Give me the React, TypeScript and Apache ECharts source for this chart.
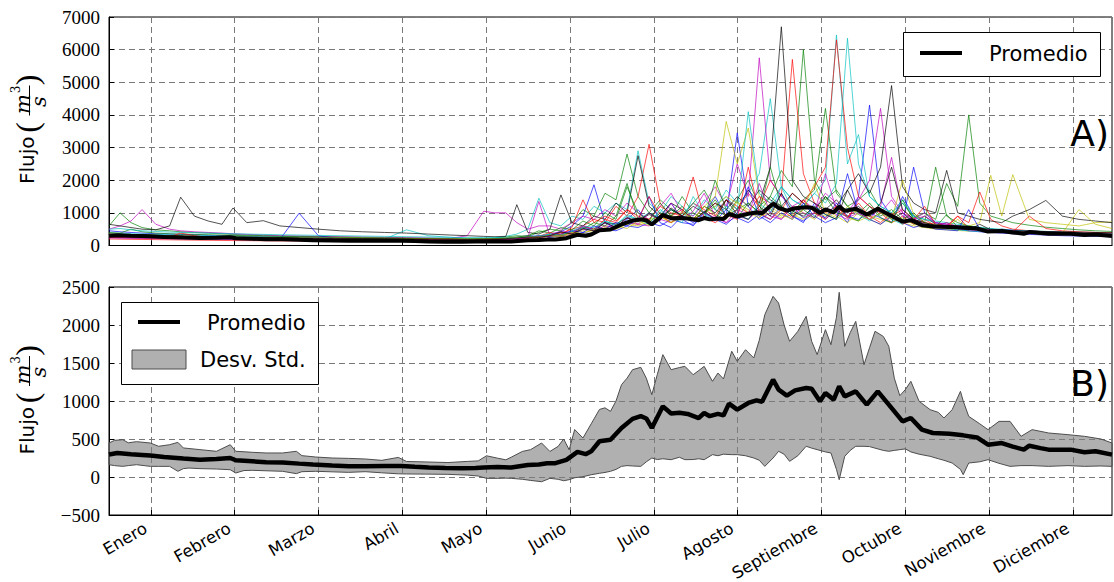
import React, { useEffect, useRef } from 'react';
import * as echarts from 'echarts';

// ---------- tick data ----------
const MONTHS = ['Enero', 'Febrero', 'Marzo', 'Abril', 'Mayo', 'Junio', 'Julio', 'Agosto', 'Septiembre', 'Octubre', 'Noviembre', 'Diciembre'];
const MONTH_TICKS = [15.2, 45.6, 76.0, 106.5, 136.9, 167.3, 197.7, 228.1, 258.5, 289.0, 319.4, 349.8];

// ---------- panel A: individual years (day of year) ----------
const DAYS = [
  0, 4, 8, 12, 17, 22, 26, 31, 36, 41, 45, 50, 56, 62, 69, 76, 84, 92, 100, 108, 116, 124, 130, 136, 140,
  144, 148, 152, 156, 160, 164, 168, 172, 176, 180, 184, 188, 192, 196, 200, 204, 208, 212, 216, 220, 224, 228, 232, 236, 240,
  244, 248, 252, 256, 260, 264, 268, 272, 276, 280, 284, 288, 292, 296, 300, 304, 308, 312, 316, 320,
  324, 328, 334, 340, 346, 352, 358, 364,
];

const YEAR_01 = [
  450, 420, 400, 380, 360, 350, 340, 330, 310, 300, 290, 280, 270, 255, 245, 235, 220, 210, 200, 190, 180, 175, 170, 180, 200,
  220, 250, 300, 280, 350, 420, 600, 900, 1860, 700, 500, 800, 1100, 650, 900, 1300, 800, 600, 1000, 1500, 900, 3450, 1200, 800, 1000,
  1600, 900, 700, 1300, 800, 1100, 700, 1500, 4300, 1400, 900, 700, 2400, 1000, 700, 600, 550, 500, 480, 450,
  500, 470, 440, 420, 400, 380, 360, 350,
];
const YEAR_02 = [
  600, 1000, 700, 550, 480, 450, 420, 400, 380, 360, 340, 320, 300, 290, 280, 270, 260, 250, 240, 230, 220, 210, 200, 210, 230,
  260, 300, 280, 400, 500, 450, 700, 1100, 900, 1600, 1400, 2800, 1500, 1000, 1400, 1100, 900, 1300, 1700, 1100, 900, 1400, 2000, 1200, 1500,
  2300, 1800, 6000, 2000, 1400, 1700, 1200, 1400, 1700, 1100, 900, 1300, 850, 1000, 800, 1900, 1200, 4000, 1300, 900,
  800, 700, 620, 560, 520, 480, 450, 430,
];
const YEAR_03 = [
  350, 340, 330, 320, 310, 300, 290, 280, 270, 260, 250, 245, 240, 230, 220, 210, 200, 190, 180, 170, 160, 150, 150, 160, 170,
  180, 200, 250, 230, 300, 350, 500, 600, 800, 700, 1200, 900, 1500, 3100, 1300, 900, 1100, 800, 1000, 1300, 900, 1100, 1600, 1200, 2000,
  1500, 5700, 2200, 1300, 1000, 1200, 900, 1100, 800, 1000, 700, 900, 650, 800, 600, 700, 550, 500, 480, 450,
  420, 400, 380, 360, 340, 320, 310, 300,
];
const YEAR_04 = [
  300, 290, 280, 270, 260, 250, 240, 235, 230, 225, 220, 215, 210, 205, 200, 195, 190, 185, 200, 480, 300, 250, 220, 210, 230,
  280, 350, 500, 1450, 700, 600, 900, 800, 1200, 1000, 1300, 1100, 2900, 1300, 1000, 1500, 1200, 900, 1400, 1100, 1700, 1300, 1600, 2200, 4500,
  1800, 1400, 1200, 1600, 2000, 6450, 2500, 3400, 1500, 1200, 1000, 1300, 900, 800, 700, 650, 600, 560, 520, 500,
  470, 440, 410, 390, 370, 350, 340, 330,
];
const YEAR_05 = [
  500, 600, 750, 1100, 650, 500, 450, 420, 400, 380, 360, 340, 320, 300, 290, 280, 270, 260, 250, 240, 230, 220, 300, 1050, 1000,
  1000, 700, 500, 600, 600, 500, 700, 900, 800, 1100, 900, 1300, 1000, 800, 1200, 1600, 1000, 900, 1300, 1800, 1200, 2500, 1500, 5750, 2000,
  1500, 1200, 1400, 1100, 1600, 1300, 1000, 1500, 1200, 1000, 1400, 900, 800, 1000, 700, 650, 600, 550, 520, 500,
  480, 460, 440, 420, 400, 380, 370, 360,
];
const YEAR_06 = [
  280, 270, 260, 255, 250, 245, 240, 235, 230, 225, 220, 215, 210, 200, 195, 190, 185, 180, 175, 170, 165, 160, 160, 165, 170,
  180, 200, 220, 250, 300, 280, 400, 500, 450, 600, 550, 700, 650, 800, 900, 700, 1000, 800, 1200, 1500, 3800, 2500, 3600, 1500, 1100,
  900, 1200, 1000, 800, 1100, 900, 700, 1000, 800, 650, 900, 700, 600, 550, 500, 480, 460, 440, 450, 430,
  420, 400, 390, 380, 370, 360, 350, 340,
];
const YEAR_07 = [
  650, 600, 550, 500, 480, 600, 1480, 900, 750, 650, 1150, 700, 760, 600, 550, 500, 450, 420, 400, 380, 350, 320, 300, 280, 270,
  280, 1250, 400, 350, 500, 1550, 700, 600, 900, 800, 1300, 1000, 2750, 1200, 900, 1300, 1100, 800, 1200, 1000, 1400, 1100, 1700, 1300, 2400,
  6700, 2000, 1500, 1300, 1100, 1400, 1000, 1200, 900, 1100, 800, 1000, 700, 900, 650, 600, 560, 540, 520, 500,
  480, 450, 430, 410, 390, 370, 350, 340,
];
const YEAR_08 = [
  250, 240, 235, 230, 225, 220, 215, 210, 205, 200, 195, 190, 185, 180, 990, 300, 200, 180, 170, 160, 150, 145, 140, 145, 150,
  160, 170, 200, 190, 250, 300, 280, 400, 350, 500, 450, 600, 550, 700, 600, 800, 700, 650, 900, 750, 1100, 850, 700, 950, 800,
  1200, 900, 750, 1000, 850, 1300, 900, 800, 1000, 850, 700, 1500, 900, 700, 600, 550, 500, 450, 420, 400,
  380, 360, 340, 320, 300, 290, 280, 270,
];
const YEAR_09 = [
  320, 310, 300, 290, 280, 270, 260, 250, 240, 230, 220, 215, 210, 200, 195, 190, 185, 180, 175, 170, 165, 160, 155, 160, 170,
  180, 220, 260, 240, 300, 400, 350, 500, 700, 600, 900, 1900, 800, 700, 1000, 900, 1200, 800, 1000, 1400, 900, 1100, 1300, 1000, 1500,
  1200, 1000, 1400, 1700, 4200, 1600, 1200, 1000, 1300, 900, 1100, 800, 1000, 700, 2400, 900, 700, 600, 550, 500,
  470, 440, 420, 400, 380, 360, 350, 340,
];
const YEAR_10 = [
  200, 195, 190, 185, 180, 175, 170, 165, 160, 155, 150, 148, 145, 140, 138, 135, 130, 128, 125, 122, 120, 118, 115, 120, 130,
  150, 180, 220, 300, 260, 400, 350, 600, 500, 800, 700, 1100, 900, 800, 1200, 1000, 900, 1300, 1100, 900, 1400, 1200, 1000, 1500, 1300,
  1100, 1600, 1300, 1800, 2400, 6300, 3000, 1500, 1200, 1000, 900, 1100, 800, 700, 650, 600, 900, 700, 1640, 800,
  600, 500, 450, 420, 400, 380, 360, 350,
];
const YEAR_11 = [
  380, 370, 360, 350, 340, 330, 320, 310, 300, 290, 280, 270, 260, 250, 240, 230, 220, 210, 200, 190, 180, 175, 170, 175, 185,
  200, 230, 280, 260, 350, 320, 450, 600, 550, 750, 650, 900, 800, 1000, 850, 1100, 950, 1300, 1000, 1200, 1500, 1100, 4100, 1600, 1300,
  1800, 1400, 1200, 1600, 1300, 1900, 6350, 2500, 1500, 1200, 1000, 1400, 900, 800, 750, 700, 650, 600, 560, 520,
  500, 470, 450, 430, 410, 390, 380, 370,
];
const YEAR_12 = [
  230, 225, 220, 215, 210, 205, 200, 195, 190, 185, 180, 175, 170, 165, 160, 155, 150, 145, 140, 135, 130, 128, 125, 130, 140,
  160, 200, 250, 1350, 300, 280, 350, 500, 450, 600, 550, 700, 650, 600, 800, 700, 900, 750, 1000, 850, 700, 900, 800, 1100, 900,
  800, 1200, 1000, 850, 1100, 950, 800, 1400, 2000, 4200, 1500, 1000, 800, 900, 700, 650, 600, 550, 500, 480,
  460, 440, 420, 400, 380, 360, 350, 340,
];
const YEAR_13 = [
  350, 340, 330, 320, 310, 300, 290, 280, 270, 260, 250, 240, 230, 220, 210, 200, 190, 180, 170, 165, 160, 155, 150, 155, 160,
  170, 190, 220, 210, 280, 260, 350, 450, 400, 550, 500, 650, 600, 750, 900, 700, 850, 800, 1000, 1200, 1500, 1300, 1100, 900, 1000,
  850, 950, 800, 1000, 900, 1100, 850, 750, 900, 800, 700, 850, 650, 600, 550, 500, 480, 600, 700, 2150,
  900, 2170, 800, 700, 650, 600, 700, 720,
];
const YEAR_14 = [
  280, 275, 270, 265, 260, 255, 250, 245, 240, 235, 230, 225, 220, 215, 210, 205, 200, 195, 190, 185, 180, 175, 170, 175, 180,
  190, 210, 260, 240, 320, 300, 420, 550, 500, 700, 650, 850, 750, 950, 800, 1100, 900, 1200, 1000, 1300, 1100, 1500, 1200, 1700, 1400,
  1200, 1600, 1300, 1100, 1500, 1200, 1700, 2200, 1600, 2400, 4900, 1800, 1300, 1100, 1000, 2300, 1000, 900, 800, 750,
  700, 900, 1100, 1380, 900, 800, 750, 700,
];
const YEAR_15 = [
  300, 290, 280, 275, 270, 265, 260, 255, 250, 245, 240, 235, 230, 225, 220, 215, 210, 205, 200, 195, 190, 185, 180, 185, 190,
  200, 220, 240, 300, 280, 350, 450, 400, 600, 500, 700, 600, 800, 1500, 700, 550, 900, 700, 1000, 800, 650, 950, 1800, 900, 700,
  1000, 800, 1300, 900, 700, 850, 2200, 1000, 800, 650, 900, 700, 550, 650, 500, 480, 450, 1100, 500, 420,
  400, 390, 380, 370, 360, 350, 340, 330,
];
const YEAR_16 = [
  400, 380, 500, 420, 380, 360, 350, 340, 330, 320, 310, 300, 290, 280, 270, 260, 250, 240, 230, 220, 210, 200, 195, 200, 210,
  230, 260, 300, 450, 380, 550, 480, 750, 600, 1000, 800, 1800, 1000, 750, 1300, 900, 1500, 1000, 800, 2000, 1100, 850, 1300, 1000, 2400,
  1200, 900, 1100, 850, 1500, 1000, 900, 750, 1200, 850, 700, 1400, 800, 650, 560, 950, 560, 500, 470, 450,
  440, 420, 400, 390, 380, 370, 360, 350,
];
const YEAR_17 = [
  250, 245, 240, 235, 230, 260, 380, 300, 260, 240, 230, 225, 220, 215, 210, 205, 200, 195, 190, 185, 180, 175, 170, 175, 180,
  190, 200, 230, 280, 400, 330, 550, 1400, 700, 900, 750, 1100, 800, 1500, 950, 700, 1000, 2100, 850, 700, 950, 800, 2400, 1000, 800,
  1100, 850, 1400, 1000, 800, 1200, 850, 1300, 900, 700, 1000, 650, 800, 1200, 650, 560, 900, 520, 480, 450,
  430, 420, 900, 520, 450, 420, 400, 390,
];
const YEAR_18 = [
  500, 520, 480, 450, 430, 410, 400, 390, 380, 370, 360, 350, 340, 330, 320, 310, 300, 290, 280, 270, 260, 250, 240, 245, 250,
  220, 240, 260, 300, 340, 320, 420, 550, 480, 750, 600, 950, 800, 650, 1100, 850, 700, 1500, 950, 800, 1200, 950, 800, 1300, 1000,
  1800, 1100, 850, 1200, 950, 800, 1150, 950, 750, 1000, 800, 650, 950, 600, 650, 520, 480, 450, 430, 410,
  400, 390, 380, 370, 360, 350, 345, 340,
];
const YEAR_19 = [
  270, 265, 260, 255, 250, 245, 240, 235, 230, 225, 220, 215, 210, 205, 200, 195, 190, 185, 180, 175, 170, 165, 160, 165, 170,
  180, 200, 240, 220, 300, 450, 380, 600, 480, 700, 550, 850, 650, 1000, 750, 1300, 800, 1050, 1600, 900, 700, 1100, 950, 1900, 1000,
  800, 1200, 850, 1000, 2200, 1100, 850, 1000, 800, 1200, 2700, 1000, 800, 650, 560, 700, 520, 480, 450, 420,
  410, 400, 390, 380, 370, 360, 350, 345,
];
const YEAR_20 = [
  320, 310, 300, 295, 290, 285, 280, 275, 270, 265, 260, 255, 250, 245, 240, 235, 230, 225, 220, 215, 210, 205, 200, 205, 210,
  220, 240, 270, 250, 320, 300, 400, 360, 500, 440, 600, 520, 750, 620, 900, 700, 1050, 800, 1200, 950, 800, 1350, 1000, 850, 1200,
  950, 800, 1100, 1900, 1000, 850, 1200, 950, 800, 1000, 800, 2000, 950, 700, 620, 560, 800, 520, 480, 450,
  440, 420, 400, 390, 380, 1100, 650, 520,
];
const YEAR_21 = [
  350, 340, 330, 320, 310, 300, 290, 280, 270, 260, 250, 245, 240, 235, 230, 225, 220, 215, 210, 205, 200, 195, 190, 195, 200,
  210, 230, 260, 250, 300, 420, 350, 520, 450, 700, 560, 850, 720, 1000, 800, 1150, 900, 750, 1050, 800, 1400, 950, 800, 1200, 900,
  1600, 1050, 900, 1200, 950, 800, 1700, 1050, 900, 1300, 2400, 1100, 800, 700, 620, 560, 520, 480, 650, 480,
  470, 450, 440, 430, 420, 410, 400, 390,
];
const YEAR_COLORS = ['#0000ff', '#008000', '#ff0000', '#00bfbf', '#bf00bf', '#bfbf00', '#000000'];

// ---------- mean (Promedio) ----------
const MEAN_DAYS = [0, 3, 8, 12, 15, 20, 27, 33, 39, 44, 46, 52, 57, 63, 69, 74, 81, 87, 93, 100, 106, 111, 116, 122, 128,
  133, 136, 141, 146, 152, 156, 159, 162, 166, 170, 173, 175, 178, 182, 186, 190, 193, 195, 197, 201, 204, 207, 210, 214, 216,
  218, 221, 223, 225, 228, 232, 235, 237, 241, 243, 246, 249, 253, 255, 258, 260, 263, 265, 267, 271, 275, 279, 283, 288, 291,
  295, 299, 305, 310, 315, 319, 324, 328, 332, 334, 338, 341, 349, 354, 358, 364];
const MEAN_VALUES = [295, 315, 300, 290, 282, 263, 242, 228, 236, 250, 220, 206, 194, 192, 176, 163, 150, 142, 142, 145, 146, 135, 125, 118, 115,
  120, 124, 130, 124, 158, 165, 180, 182, 225, 330, 300, 338, 470, 490, 645, 765, 800, 770, 645, 930, 835, 845, 830, 776, 842,
  800, 830, 810, 965, 886, 974, 1009, 990, 1281, 1149, 1070, 1140, 1171, 1160, 996, 1105, 1018, 1193, 1061, 1127, 952, 1127, 952, 732, 776,
  623, 579, 570, 548, 520, 425, 447, 400, 360, 412, 380, 360, 360, 325, 338, 294];

// ---------- standard deviation band (mean ± std) ----------
const BAND_DAYS = [0, 2, 5, 7, 10, 15, 18, 22, 25, 27, 29, 33, 39, 44, 46, 49, 52, 57, 63, 68, 70, 75, 81, 87, 93,
  99, 105, 108, 115, 123, 130, 134, 137, 141, 144, 146, 150, 153, 157, 160, 163, 165, 167, 169, 172, 175, 178, 180, 182, 184,
  186, 188, 190, 193, 195, 197, 199, 201, 204, 207, 209, 212, 214, 216, 219, 221, 223, 226, 228, 231, 234, 236, 238, 241, 243,
  245, 247, 250, 253, 255, 257, 260, 262, 264, 265, 267, 269, 271, 274, 276, 278, 281, 283, 285, 287, 289, 291, 294, 298, 301,
  303, 306, 309, 310, 312, 316, 319, 323, 327, 331, 335, 341, 348, 354, 360, 364];
const BAND_UPPER = [447, 482, 491, 450, 465, 447, 404, 425, 456, 382, 375, 360, 338, 425, 338, 332, 325, 316, 316, 338, 281, 263, 250, 245, 237,
  219, 258, 204, 198, 190, 205, 212, 279, 248, 226, 261, 336, 360, 447, 336, 403, 500, 358, 624, 513, 700, 889, 910, 864, 1000,
  1215, 1300, 1412, 1443, 1300, 1083, 1350, 1610, 1412, 1440, 1456, 1346, 1400, 1456, 1259, 1368, 1290, 1654, 1522, 1675, 1566, 1800, 2136, 2377, 2289,
  2000, 1785, 1917, 2114, 1785, 1610, 1939, 1741, 2100, 2430, 1719, 1900, 2048, 1478, 1700, 1917, 1850, 1719, 1300, 1070, 1150, 1259, 996, 886, 850,
  776, 886, 1127, 1000, 798, 700, 623, 732, 732, 535, 623, 579, 557, 535, 500, 447];
const BAND_LOWER = [162, 150, 140, 150, 162, 140, 140, 140, 75, 110, 118, 110, 105, 96, 53, 85, 88, 82, 75, 44, 70, 75, 68, 61, 70,
  55, 42, 40, 38, 35, 25, 13, -18, -18, -15, -18, -30, -45, -62, -18, -30, -49, -35, -10, 4, 30, 49, 60, 75, 100,
  140, 150, 145, 140, 200, 250, 230, 240, 228, 260, 228, 230, 240, 228, 294, 280, 300, 294, 294, 280, 250, 220, 140, 250, 338,
  300, 206, 280, 404, 380, 360, 330, 316, 100, -35, 272, 350, 404, 404, 400, 380, 350, 338, 350, 360, 370, 330, 300, 272, 240,
  220, 184, 100, 31, 184, 200, 228, 180, 140, 150, 150, 140, 150, 140, 145, 140];

const SANS = '"DejaVu Sans", sans-serif';
const SERIF = '"Liberation Serif", serif';
const MATH = '"DejaVu Serif", serif';
const BAND_FILL = 'rgba(128,128,128,0.62)';
const BAND_EDGE = '#4d4d4d';

function monthLabel(v: number): string {
  const i = MONTH_TICKS.findIndex((t) => Math.abs(t - v) < 0.5);
  return i >= 0 ? MONTHS[i] : '';
}

function xAxis(gridIndex: number, showLabels: boolean) {
  return {
    type: 'value', gridIndex, min: 0, max: 364,
    axisLine: { show: true, onZero: false, lineStyle: { color: '#000', width: 1 } },
    axisTick: { show: true, inside: true, length: 5, customValues: MONTH_TICKS, lineStyle: { color: '#000' } },
    axisLabel: {
      show: showLabels, customValues: MONTH_TICKS, formatter: monthLabel, rotate: 30,
      fontFamily: SANS, fontSize: 16.5, color: '#000', margin: 9, padding: [0, 6, 0, 0],
    },
    splitLine: { show: true, lineStyle: { color: '#777', type: [6, 4], width: 1 } },
  };
}

function yAxis(gridIndex: number, min: number, max: number, interval: number) {
  return {
    type: 'value', gridIndex, min, max, interval,
    axisLine: { show: true, onZero: false, lineStyle: { color: '#000', width: 1 } },
    axisTick: { show: true, inside: true, length: 5, lineStyle: { color: '#000' } },
    axisLabel: {
      fontFamily: SERIF, fontSize: 19, color: '#000', margin: 9,
      formatter: (v: number) => (v < 0 ? '\u2212' + Math.abs(v) : String(v)),
    },
    splitLine: { show: true, lineStyle: { color: '#777', type: [6, 4], width: 1 } },
  };
}

function txt(text: string, x: number, y: number, size: number, family: string, align = 'left', italic = false) {
  return {
    type: 'text', silent: true, z: 100,
    style: {
      text, x, y, fill: '#000', fontSize: size, fontFamily: family, fontStyle: italic ? 'italic' : 'normal',
      textAlign: align, align, textVerticalAlign: 'middle', verticalAlign: 'middle',
    },
  };
}

function yTitle(gx: number, gy: number) {
  return {
    type: 'group', x: gx, y: gy, rotation: Math.PI / 2, z: 100, silent: true,
    children: [
      txt('Flujo', -52.5, -7, 20, SANS, 'left'),
      txt('(', 4, -7, 32, SERIF, 'center'),
      txt('m', 27.5, -11.5, 21, MATH, 'center', true),
      txt('3', 42, -18, 12, MATH, 'center'),
      { type: 'line', silent: true, z: 100, shape: { x1: 16, y1: -4.5, x2: 46, y2: -4.5 }, style: { stroke: '#000', lineWidth: 1 } },
      txt('s', 30, 4.5, 21, MATH, 'center', true),
      txt(')', 51.5, -7, 32, SERIF, 'center'),
    ],
  };
}

function buildOption() {
  const years = [YEAR_01, YEAR_02, YEAR_03, YEAR_04, YEAR_05, YEAR_06, YEAR_07, YEAR_08, YEAR_09, YEAR_10, YEAR_11,
    YEAR_12, YEAR_13, YEAR_14, YEAR_15, YEAR_16, YEAR_17, YEAR_18, YEAR_19, YEAR_20, YEAR_21];
  const yearSeries = years.map((vals, k) => ({
    type: 'line', name: 'Año ' + (k + 1), xAxisIndex: 0, yAxisIndex: 0,
    data: DAYS.map((d, i) => [d, vals[i]]),
    showSymbol: false, symbol: 'none', silent: true, z: 2,
    lineStyle: { color: YEAR_COLORS[k % YEAR_COLORS.length], width: 1, opacity: 0.68 },
  }));
  const meanData = MEAN_DAYS.map((d, i) => [d, MEAN_VALUES[i]]);

  return {
    animation: false,
    backgroundColor: '#fff',
    textStyle: { fontFamily: SANS },
    grid: [
      { left: 109, right: 2, top: 17, height: 228.5, show: true, borderColor: '#000', borderWidth: 1, backgroundColor: 'transparent', containLabel: false, outerBoundsMode: 'none' },
      { left: 109, right: 2, top: 287, height: 228, show: true, borderColor: '#000', borderWidth: 1, backgroundColor: 'transparent', containLabel: false, outerBoundsMode: 'none' },
    ],
    xAxis: [xAxis(0, false), xAxis(1, true)],
    yAxis: [yAxis(0, 0, 7000, 1000), yAxis(1, -500, 2500, 500)],
    series: [
      ...yearSeries,
      {
        type: 'line', name: 'Promedio', xAxisIndex: 0, yAxisIndex: 0, data: meanData,
        showSymbol: false, symbol: 'none', silent: true, z: 5,
        lineStyle: { color: '#000', width: 4 },
      },
      {
        type: 'custom', name: 'Desv. Std.', xAxisIndex: 1, yAxisIndex: 1, silent: true, z: 2,
        data: BAND_DAYS.map((d, i) => [d, BAND_LOWER[i], BAND_UPPER[i]]),
        encode: { x: 0, y: [1, 2] },
        renderItem: (params: any, api: any) => {
          if (params.dataIndex !== 0) return null;
          const pts: number[][] = [];
          for (let i = 0; i < BAND_DAYS.length; i++) pts.push(api.coord([BAND_DAYS[i], BAND_UPPER[i]]));
          for (let i = BAND_DAYS.length - 1; i >= 0; i--) pts.push(api.coord([BAND_DAYS[i], BAND_LOWER[i]]));
          return {
            type: 'polygon', shape: { points: pts },
            style: { fill: BAND_FILL, stroke: BAND_EDGE, lineWidth: 1 },
          };
        },
      },
      {
        type: 'line', name: 'Promedio', xAxisIndex: 1, yAxisIndex: 1, data: meanData,
        showSymbol: false, symbol: 'none', silent: true, z: 5,
        lineStyle: { color: '#000', width: 4.5 },
      },
    ],
    graphic: [
      yTitle(34, 131.5),
      yTitle(34, 402),
      // legend A
      { type: 'rect', silent: true, z: 100, shape: { x: 903.5, y: 32.5, width: 197, height: 44 }, style: { fill: '#fff', stroke: '#000', lineWidth: 1 } },
      { type: 'line', silent: true, z: 101, shape: { x1: 920, y1: 53, x2: 962, y2: 53 }, style: { stroke: '#000', lineWidth: 4 } },
      txt('Promedio', 989, 54, 21, SANS, 'left'),
      // legend B
      { type: 'rect', silent: true, z: 100, shape: { x: 121.5, y: 302.5, width: 197, height: 82 }, style: { fill: '#fff', stroke: '#000', lineWidth: 1 } },
      { type: 'line', silent: true, z: 101, shape: { x1: 138, y1: 322, x2: 180, y2: 322 }, style: { stroke: '#000', lineWidth: 4 } },
      txt('Promedio', 207, 323, 21, SANS, 'left'),
      { type: 'rect', silent: true, z: 101, shape: { x: 132, y: 350, width: 54, height: 19 }, style: { fill: BAND_FILL, stroke: BAND_EDGE, lineWidth: 1 } },
      txt('Desv. Std.', 200, 360, 21, SANS, 'left'),
      // panel tags
      txt('A)', 1109, 133.5, 36, SANS, 'right'),
      txt('B)', 1109, 383.5, 36, SANS, 'right'),
    ],
  };
}

export default function App() {
  const ref = useRef<HTMLDivElement>(null);
  useEffect(() => {
    if (!ref.current) return;
    const chart = echarts.init(ref.current, null, { renderer: 'svg' });
    chart.setOption(buildOption() as any);
    return () => chart.dispose();
  }, []);
  return (
    <div
      ref={ref}
      style={{ position: 'absolute', left: 0, top: 0, width: 1114, height: 582, background: '#fff' }}
    />
  );
}
